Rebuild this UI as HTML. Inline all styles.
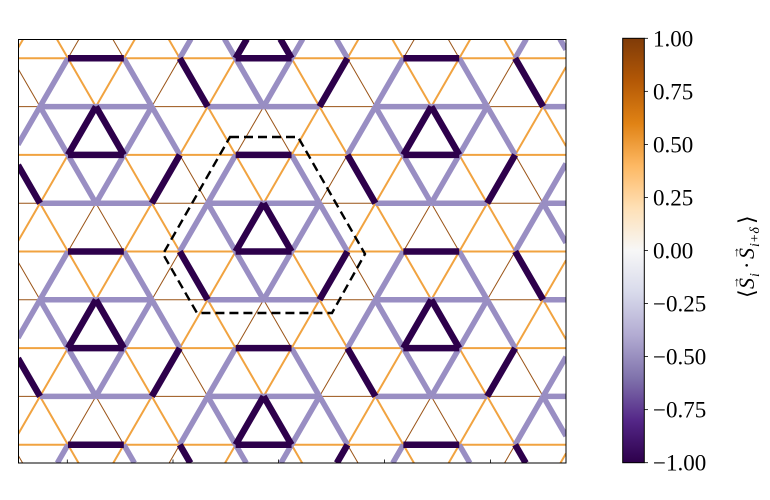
<!DOCTYPE html>
<html><head><meta charset="utf-8"><style>
html,body{margin:0;padding:0;background:#fff;width:770px;height:500px;overflow:hidden;}
svg{display:block;}
text{font-family:"Liberation Serif","DejaVu Serif",serif;}
</style></head><body>
<svg id="chart" width="770" height="500" viewBox="0 0 770 500" xmlns="http://www.w3.org/2000/svg">
<defs>
<clipPath id="plotclip"><rect x="18" y="39" width="548" height="424"/></clipPath>
<linearGradient id="cmap" x1="0" y1="1" x2="0" y2="0">
<stop offset="0" stop-color="#2d004b"/><stop offset="0.1" stop-color="#542788"/>
<stop offset="0.2" stop-color="#8073ac"/><stop offset="0.3" stop-color="#b2abd2"/>
<stop offset="0.4" stop-color="#d8daeb"/><stop offset="0.5" stop-color="#f7f7f7"/>
<stop offset="0.6" stop-color="#fee0b6"/><stop offset="0.7" stop-color="#fdb863"/>
<stop offset="0.8" stop-color="#e08214"/><stop offset="0.9" stop-color="#b35806"/>
<stop offset="1" stop-color="#7f3b08"/>
</linearGradient>
</defs>
<rect x="18" y="39" width="548" height="424" fill="#fff"/>
<g id="bonds" clip-path="url(#plotclip)"></g>
<polygon points="230,137 298,137 365,254 332,313 197,313 163,254" fill="none" stroke="#000" stroke-width="2.4" stroke-dasharray="9,5"/>
<rect x="18.5" y="39.5" width="547.5" height="423.5" fill="none" stroke="#000" stroke-width="1"/>
<g id="xticks"></g>
<rect x="622.7" y="38.3" width="21.6" height="424.4" fill="url(#cmap)" stroke="#000" stroke-width="1"/>
<g id="cbticks"></g>
<g transform="translate(754,250) rotate(-90)">
<text x="-48" y="0" font-size="22">⟨</text>
<text x="-39" y="0" font-size="22" font-style="italic">S</text>
<text x="-39" y="-15" font-size="13">→</text>
<text x="-27" y="5" font-size="14" font-style="italic">i</text>
<text x="-19" y="0" font-size="22">·</text>
<text x="-9" y="0" font-size="22" font-style="italic">S</text>
<text x="-9" y="-15" font-size="13">→</text>
<text x="3" y="5" font-size="14" font-style="italic">i+δ</text>
<text x="26" y="0" font-size="22">⟩</text>
</g>
</svg>
<script>
// bond correlation values per unit-cell site: [horizontal, down-left, down-right]
const D = -1.0, LP = -0.45, O = 0.55, B = 0.85;
const rowOddH  = [LP, LP, B, LP, LP, B];
const rowOddDL = [LP, D, LP, O, B, O];
const rowOddDR = [LP, D, LP, O, B, O];
const rowEvenH  = [D, O, O, D, O, O];
const rowEvenDL = [O, LP, D, LP, O, B];
const rowEvenDR = [LP, O, B, O, LP, D];
const cbTicks = [1.0, 0.75, 0.5, 0.25, 0.0, -0.25, -0.5, -0.75, -1.0];
const cbLabels = ["1.00","0.75","0.50","0.25","0.00","\u22120.25","\u22120.50","\u22120.75","\u22121.00"];

const NS = "http://www.w3.org/2000/svg";
const a = 55.9, h = 48.3, y0 = 58.3;
const XMIN = 18, XMAX = 566, YMIN = 39, YMAX = 463;
function px(j, k) { return (j % 2 !== 0 ? 40 : 40 + a / 2) + a * k; }
function py(j) { return y0 + h * j; }
function mod6(n) { return ((n % 6) + 6) % 6; }
function lookup(j, k, kind) {
  const odd = Math.abs(j % 2) === 1;
  let kk;
  if (odd) { kk = mod6(k - 3 * (j - 1) / 2); }
  else { kk = mod6(k - 3 * (j - 2) / 2); }
  if (odd) return kind === 0 ? rowOddH[kk] : kind === 1 ? rowOddDL[kk] : rowOddDR[kk];
  return kind === 0 ? rowEvenH[kk] : kind === 1 ? rowEvenDL[kk] : rowEvenDR[kk];
}
function style(v) {
  if (v <= -0.9) return { c: "#2d004b", w: 6.5, z: 3 };
  if (v < 0) return { c: "#998ec3", w: 5.5, z: 2 };
  if (v < 0.7) return { c: "#f1a340", w: 2, z: 1 };
  return { c: "#9a5316", w: 1, z: 0 };
}
function clip(s) {
  let t0 = 0, t1 = 1;
  const dx = s.x2 - s.x1, dy = s.y2 - s.y1;
  const p = [-dx, dx, -dy, dy];
  const q = [s.x1 - XMIN, XMAX - s.x1, s.y1 - YMIN, YMAX - s.y1];
  for (let i = 0; i < 4; i++) {
    if (p[i] === 0) { if (q[i] < 0) return null; }
    else {
      const r = q[i] / p[i];
      if (p[i] < 0) { if (r > t1) return null; if (r > t0) t0 = r; }
      else { if (r < t0) return null; if (r < t1) t1 = r; }
    }
  }
  if (t1 - t0 < 1e-6) return null;
  return { x1: s.x1 + t0 * dx, y1: s.y1 + t0 * dy, x2: s.x1 + t1 * dx, y2: s.y1 + t1 * dy, v: s.v };
}
const segs = [];
for (let j = -1; j <= 9; j++) {
  for (let k = -2; k <= 11; k++) {
    const x = px(j, k), y = py(j);
    [
      { x1: x, y1: y, x2: x + a, y2: y, v: lookup(j, k, 0) },
      { x1: x, y1: y, x2: x - a / 2, y2: y + h, v: lookup(j, k, 1) },
      { x1: x, y1: y, x2: x + a / 2, y2: y + h, v: lookup(j, k, 2) }
    ].forEach(s => { const c = clip(s); if (c) segs.push(c); });
  }
}
segs.sort((p, q) => style(p.v).z - style(q.v).z);
const g = document.getElementById("bonds");
segs.forEach(s => {
  const st = style(s.v);
  const l = document.createElementNS(NS, "line");
  l.setAttribute("x1", s.x1); l.setAttribute("y1", s.y1);
  l.setAttribute("x2", s.x2); l.setAttribute("y2", s.y2);
  l.setAttribute("stroke", st.c); l.setAttribute("stroke-width", st.w);
  
  
  g.appendChild(l);
});
const xt = document.getElementById("xticks");
[67.3, 173, 278.5, 384.5, 490.5].forEach(x => {
  const t = document.createElementNS(NS, "line");
  t.setAttribute("x1", x); t.setAttribute("x2", x);
  t.setAttribute("y1", 463); t.setAttribute("y2", 459.5);
  t.setAttribute("stroke", "#000"); t.setAttribute("stroke-width", 0.8);
  
  
  xt.appendChild(t);
});
const cb = document.getElementById("cbticks");
cbTicks.forEach((v, i) => {
  const y = 38.3 + (1 - v) / 2 * 424.4;
  const t = document.createElementNS(NS, "line");
  t.setAttribute("x1", 644.3); t.setAttribute("x2", 648);
  t.setAttribute("y1", y); t.setAttribute("y2", y);
  t.setAttribute("stroke", "#000"); t.setAttribute("stroke-width", 0.8);
  
  
  cb.appendChild(t);
  const tx = document.createElementNS(NS, "text");
  tx.setAttribute("x", 653); tx.setAttribute("y", y + 8);
  tx.setAttribute("font-size", "23");
  tx.textContent = cbLabels[i];
  
  
  cb.appendChild(tx);
});
</script>
</body></html>
